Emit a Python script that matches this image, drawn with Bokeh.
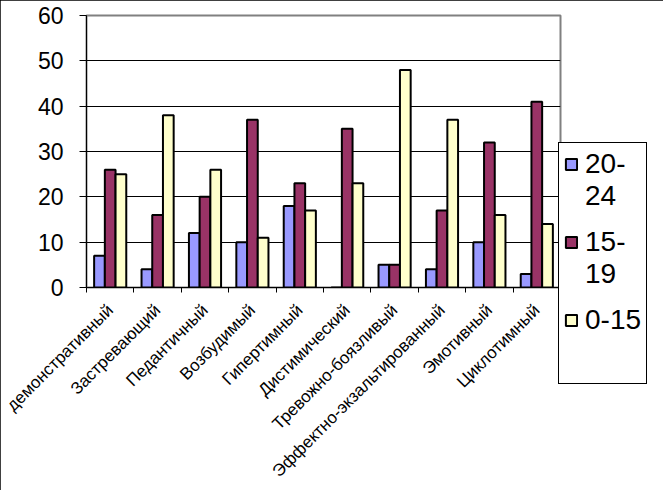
import math
from bokeh.plotting import figure
from bokeh.models import (ColumnDataSource, FixedTicker, Range1d, Legend, LegendItem)
from bokeh.transform import dodge
from bokeh.embed import file_html
from bokeh.resources import INLINE

# ---- data ----
categories = ["демонстративный", "Застревающий", "Педантичный", "Возбудимый", "Гипертимный",
              "Дистимический", "Тревожно-боязливый", "Эффектно-экзальтированный", "Эмотивный",
              "Циклотимный"]
s20_24 = [7, 4, 12, 10, 18, 0, 5, 4, 10, 3]
s15_19 = [26, 16, 20, 37, 23, 35, 5, 17, 32, 41]
s0_15 = [25, 38, 26, 11, 17, 23, 48, 37, 16, 14]
series_names = ["20-24", "15-19", "0-15"]
series_label_lines = [["20-", "24"], ["15-", "19"], ["0-15"]]
colors = ["#9999FF", "#993366", "#FFFFCC"]
y_ticks = [0, 10, 20, 30, 40, 50, 60]

FONT = "Liberation Sans"
FL, FT, FW, FH = 86, 15, 474, 272
BOTTOM = 488 - FT - FH
n = len(categories)

p = figure(frame_width=FW, frame_height=FH, x_range=Range1d(0, n), y_range=Range1d(0, 60),
           output_backend="svg", toolbar_location=None,
           min_border_left=FL, min_border_right=0,
           min_border_top=FT, min_border_bottom=BOTTOM)
p.background_fill_color = "white"
p.border_fill_color = "white"
p.outline_line_color = "#808080"
p.outline_line_width = 2
p.styles = {"outline": "2px solid black", "outline-offset": "-2px"}

p.xgrid.visible = False
p.ygrid.ticker = FixedTicker(ticks=y_ticks[1:-1])
p.ygrid.grid_line_color = "black"
p.ygrid.grid_line_width = 1

centers = [i + 0.5 for i in range(n)]
xa = p.xaxis[0]
xa.ticker = FixedTicker(ticks=centers, minor_ticks=list(range(n + 1)))
xa.major_label_overrides = {c: name for c, name in zip(centers, categories)}
xa.major_tick_out = 0
xa.major_tick_in = 0
xa.minor_tick_out = 5
xa.minor_tick_in = 0
xa.minor_tick_line_color = "black"
xa.axis_line_color = "black"
xa.major_label_orientation = math.pi / 4
xa.major_label_text_font = FONT
xa.major_label_text_font_size = "17px"
xa.major_label_text_color = "black"
xa.major_label_standoff = 15

ya = p.yaxis[0]
ya.ticker = FixedTicker(ticks=y_ticks)
ya.major_tick_out = 7
ya.major_tick_in = 0
ya.minor_tick_out = 0
ya.minor_tick_in = 0
ya.major_tick_line_color = "black"
ya.axis_line_color = "black"
ya.major_label_standoff = 16
ya.major_label_text_font = FONT
ya.major_label_text_font_size = "23px"
ya.major_label_text_color = "black"

src = ColumnDataSource(dict(xc=centers, a=s20_24, b=s15_19, c=s0_15))
bw = 0.226
bars = []
for k, (col, color, name) in enumerate(zip(["a", "b", "c"], colors, series_names)):
    r = p.vbar(x=dodge("xc", (k - 1) * bw, range=p.x_range), top=col, bottom=0, width=bw,
               source=src, fill_color=color, line_color="black", line_width=2, name=name)
    bars.append(r)

# invisible renderer used for the wrapped second lines and gaps of the legend
spacer = p.scatter(x=[], y=[], fill_alpha=0, line_alpha=0)

items = []
for idx, (lines, r) in enumerate(zip(series_label_lines, bars)):
    items.append(LegendItem(label=lines[0], renderers=[r]))
    for extra in lines[1:]:
        items.append(LegendItem(label=extra, renderers=[spacer]))
    if idx < len(bars) - 1:
        items.append(LegendItem(label="", renderers=[spacer]))
items.append(LegendItem(label=" ", renderers=[spacer]))
items.append(LegendItem(label="", renderers=[spacer]))
items.append(LegendItem(label="", renderers=[spacer]))

legend = Legend(items=items, location=(-2, -97), orientation="vertical", margin=0,
                padding=5, spacing=0, glyph_width=14, glyph_height=14, label_standoff=7,
                label_height=10, label_text_font=FONT, label_text_font_size="28px",
                label_text_color="black",
                border_line_color="black", border_line_width=1.5, border_line_alpha=1,
                background_fill_color="white", background_fill_alpha=1)
p.add_layout(legend, "right")

open("out.html", "w").write(file_html(p, INLINE))
